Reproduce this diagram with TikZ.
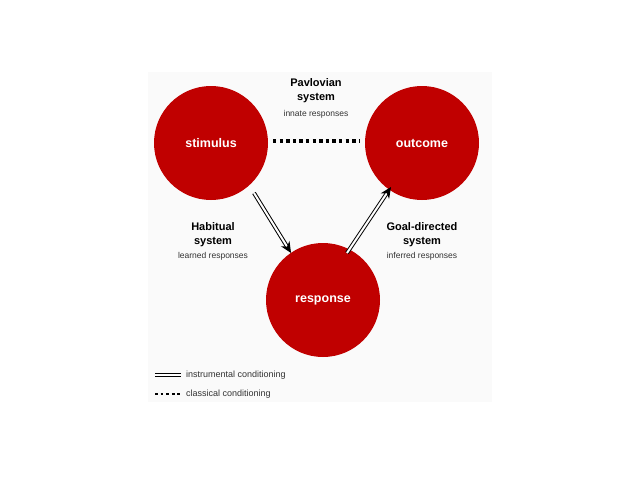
\documentclass[tikz,border=0pt]{standalone}
\usepackage{fontspec}
\setmainfont{Liberation Sans}
\usetikzlibrary{arrows.meta}
\definecolor{cr}{RGB}{192,0,0}
\tikzset{
 circ/.style={circle,fill=cr,minimum size=114pt,inner sep=0pt,text=white,font=\fontsize{12.5}{14}\selectfont\bfseries},
 ttl/.style={font=\fontsize{11}{14}\selectfont\bfseries,align=center,inner sep=0pt},
 sub/.style={font=\fontsize{8.5}{10}\selectfont,text=black!80,inner sep=0pt},
 inst/.style={double,double distance=2pt,line width=1pt,-{Stealth[length=11pt,width=10pt]}},
 clas/.style={line width=3.2pt,dash pattern=on 3.3pt off 3.3pt},
 leg/.style={font=\fontsize{9}{10}\selectfont,anchor=west,inner sep=0pt,text=black!80}
}
\begin{document}
\begin{tikzpicture}[x=1pt,y=-1pt]
\useasboundingbox[fill=white] (0,0) rectangle (638,479);
\fill[black!2] (148,72) rectangle (492,402);
\node[circ] (s) at (211,143) {stimulus};
\node[circ] (o) at (422,143) {outcome};
\node[circ] (r) at (323,300) {response};
\node[ttl] (p) at (316,91) {Pavlovian\\system};
\node[sub] (pi) at (316,114) {innate responses};
\node[ttl] (h) at (213,235) {Habitual\\system};
\node[sub] (hi) at (213,256) {learned responses};
\node[ttl] (g) at (422,235) {Goal-directed\\system};
\node[sub] (gi) at (422,256) {inferred responses};
\coordinate (d1) at (273,141); \coordinate (d2) at (360,141);
\draw[clas] (d1) -- (d2);
\coordinate (a1) at (254,193); \coordinate (a2) at (291,253);
\coordinate (b1) at (347,253); \coordinate (b2) at (391,187);
\draw[inst] (a1) -- (a2);
\draw[inst] (b1) -- (b2);
\coordinate (l1) at (155,375); \coordinate (l2) at (181,375);
\draw[double,double distance=2pt,line width=1pt] (l1) -- (l2);
\node[leg] (lt1) at (186,375) {instrumental conditioning};
\coordinate (m1) at (155,394); \coordinate (m2) at (181,394);
\draw[line width=2.8pt,dash pattern=on 2.8pt off 2.8pt] (m1) -- (m2);
\node[leg] (lt2) at (186,394) {classical conditioning};
\end{tikzpicture}
\end{document}
